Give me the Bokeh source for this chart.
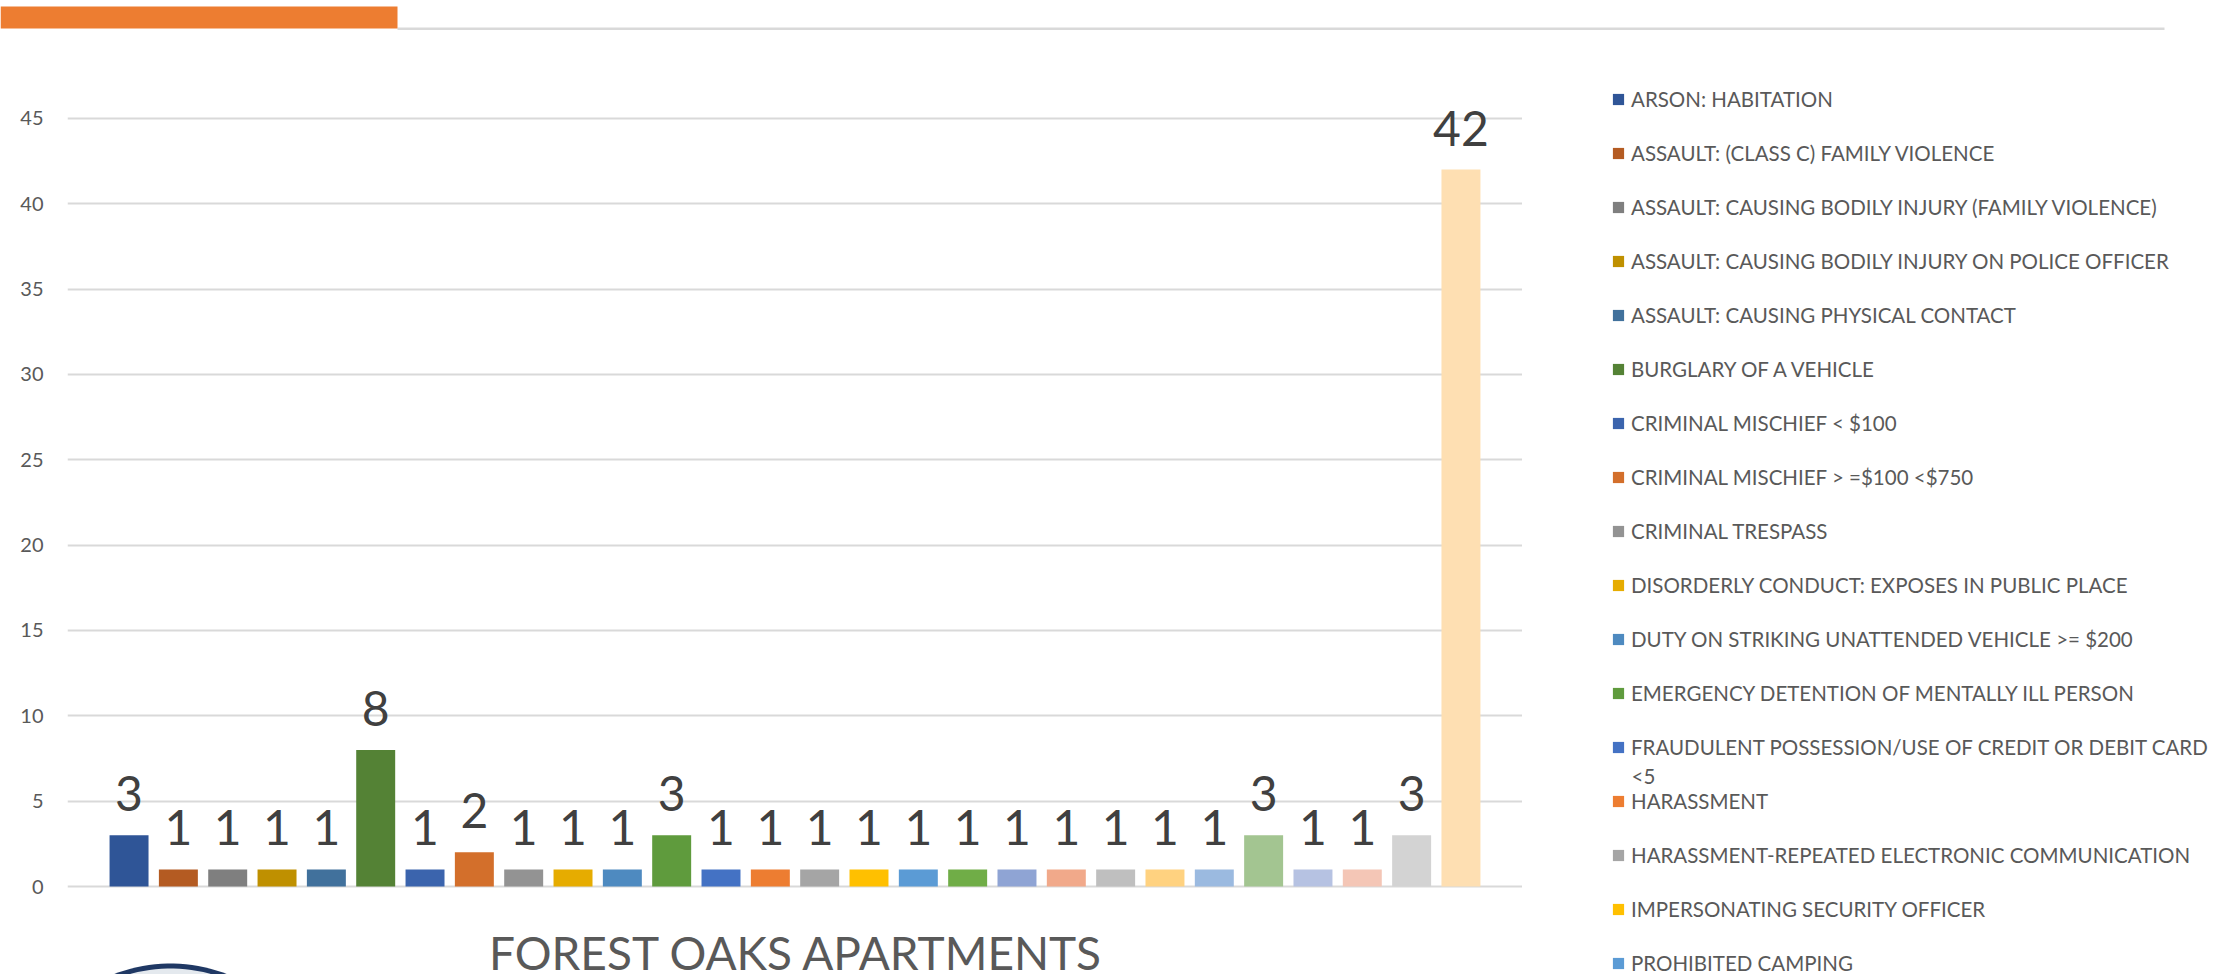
import numpy as np
from bokeh.plotting import figure
from bokeh.layouts import column, row
from bokeh.models import (FactorRange, Range1d, FixedTicker, LabelSet, Label, Legend,
                          LegendItem, PolyAnnotation, ColumnDataSource)
from bokeh.core.properties import value
from bokeh.embed import file_html
from bokeh.resources import INLINE

# ---- data ----
categories = [
    "ARSON: HABITATION",
    "ASSAULT: (CLASS C) FAMILY VIOLENCE",
    "ASSAULT: CAUSING BODILY INJURY (FAMILY VIOLENCE)",
    "ASSAULT: CAUSING BODILY INJURY ON POLICE OFFICER",
    "ASSAULT: CAUSING PHYSICAL CONTACT",
    "BURGLARY OF A VEHICLE",
    "CRIMINAL MISCHIEF < $100",
    "CRIMINAL MISCHIEF > =$100 <$750",
    "CRIMINAL TRESPASS",
    "DISORDERLY CONDUCT: EXPOSES IN PUBLIC PLACE",
    "DUTY ON STRIKING UNATTENDED VEHICLE >= $200",
    "EMERGENCY DETENTION OF MENTALLY ILL PERSON",
    "FRAUDULENT POSSESSION/USE OF CREDIT OR DEBIT CARD",
    "HARASSMENT",
    "HARASSMENT-REPEATED ELECTRONIC COMMUNICATION",
    "IMPERSONATING SECURITY OFFICER",
    "PROHIBITED CAMPING",
    # the legend is cut off in the reference below this point
    "CATEGORY 18", "CATEGORY 19", "CATEGORY 20", "CATEGORY 21", "CATEGORY 22",
    "CATEGORY 23", "CATEGORY 24", "CATEGORY 25", "CATEGORY 26", "CATEGORY 27",
    "CATEGORY 28",
]
counts = [3, 1, 1, 1, 1, 8, 1, 2, 1, 1, 1, 3, 1, 1, 1, 1, 1, 1, 1, 1, 1, 1, 1, 3, 1, 1, 3, 42]
colors = [
    "#2F5597", "#B45B22", "#7F7F7F", "#BF9000", "#41719C", "#548235", "#3B64AD",
    "#D36F2B", "#939393", "#E6AC00", "#4E8AC0", "#5F9B3D", "#4472C4", "#ED7D31",
    "#A5A5A5", "#FFC000", "#5B9BD5", "#70AD47", "#8FA4D4", "#F1A98A", "#BFBFBF",
    "#FFD280", "#9BBAE0", "#A3C591", "#B6C2E2", "#F4C6B6", "#D3D3D3", "#FEDFB2",
]
y_ticks = [0, 5, 10, 15, 20, 25, 30, 35, 40, 45]
visible_legend_count = 17
title_text = "FOREST OAKS APARTMENTS"

FONT = "Lato"
TEXT_GREY = "#595959"

# ---- geometry (pixels) ----
TOTAL_W = 2229
HEAD_H = 30
BODY_H = 944
MAIN_W = 1522
LEG_W = TOTAL_W - MAIN_W
AXIS_W = 67
ZERO_PX = 856          # y of value 0, from top of body
PX_PER_UNIT = 17.07

src = ColumnDataSource(dict(cat=categories, val=counts, color=colors,
                            label=[str(c) for c in counts]))

# ---- header strip: orange tab + thin grey rule ----
head = figure(width=TOTAL_W, height=HEAD_H, output_backend="svg", toolbar_location=None,
              x_range=Range1d(0, TOTAL_W), y_range=Range1d(0, HEAD_H),
              x_axis_location=None, y_axis_location=None,
              min_border=0, min_border_left=0, min_border_right=0,
              min_border_top=0, min_border_bottom=0)
head.outline_line_color = None
head.grid.visible = False
head.quad(left=[397], right=[2164], bottom=[0], top=[3], fill_color="#D9D9D9", line_color=None)
head.quad(left=[0], right=[397], bottom=[2], top=[24], fill_color="#ED7D31", line_color=None)

# ---- main chart ----
p = figure(width=MAIN_W, height=BODY_H, output_backend="svg", toolbar_location=None,
           x_range=FactorRange(*categories, range_padding=0.0534),
           y_range=Range1d(-(BODY_H - ZERO_PX) / PX_PER_UNIT, ZERO_PX / PX_PER_UNIT),
           x_axis_location=None,
           min_border_left=AXIS_W, min_border_right=0,
           min_border_top=0, min_border_bottom=0)
p.outline_line_color = None
p.xgrid.visible = False
p.ygrid.grid_line_color = "#D9D9D9"
p.ygrid.grid_line_width = 2
p.yaxis.ticker = FixedTicker(ticks=y_ticks)
p.yaxis.axis_line_color = None
p.yaxis.major_tick_line_color = None
p.yaxis.minor_tick_line_color = None
p.yaxis.major_tick_out = 0
p.yaxis.major_tick_in = 0
p.yaxis.major_label_standoff = 24
p.yaxis.major_label_text_font = FONT
p.yaxis.major_label_text_font_size = "20px"
p.yaxis.major_label_text_color = TEXT_GREY

r = p.vbar(x="cat", top="val", width=0.79, fill_color="color", line_color=None, source=src)

p.add_layout(LabelSet(x="cat", y="val", text="label", source=src, y_offset=24,
                      text_align="center", text_baseline="alphabetic",
                      text_font=value(FONT), text_font_size="48px", text_color="#404040"))

# chart title under the plot area
p.add_layout(Label(x=729, y=22, x_units="screen", y_units="screen", text=title_text,
                   text_font=FONT, text_font_size="46px", text_color=TEXT_GREY,
                   text_align="center", text_baseline="alphabetic"))

# top of the round logo peeking in at the bottom left
t = np.linspace(0, np.pi, 80)
cx, cy = 103, -145
for rad, col in [(156, "#1F3864"), (151, "#E4E9EE")]:
    p.add_layout(PolyAnnotation(xs=list(cx + rad * np.cos(t)), ys=list(cy + rad * np.sin(t)),
                                xs_units="screen", ys_units="screen",
                                fill_color=col, fill_alpha=1, line_alpha=0))

# ---- legend panel ----
lg = figure(width=LEG_W, height=BODY_H, output_backend="svg", toolbar_location=None,
            x_range=p.x_range, y_range=Range1d(0, 1),
            x_axis_location=None, y_axis_location=None,
            min_border_left=0, min_border_right=0, min_border_top=0, min_border_bottom=0)
lg.outline_line_color = None
lg.grid.visible = False
lr = lg.vbar(x="cat", top="val", width=0.79, fill_color="color", line_color=None,
             source=src, visible=False)

items = [LegendItem(label=categories[i], renderers=[lr], index=i)
         for i in range(visible_legend_count)]
legend = Legend(items=items, location=(89, -4), orientation="vertical",
                label_text_font=FONT, label_text_font_size="20.5px",
                label_text_color=TEXT_GREY, glyph_width=14, glyph_height=14,
                label_standoff=6, spacing=24, label_height=30, padding=0, margin=0,
                border_line_alpha=0, background_fill_alpha=0,
                inactive_fill_alpha=0)
lg.add_layout(legend)

# wrapped tail of the FRAUDULENT legend entry
lg.add_layout(Label(x=109, y=199, x_units="screen", y_units="screen", text="<5",
                    text_font=FONT, text_font_size="20.5px", text_color=TEXT_GREY,
                    text_baseline="middle", text_align="left"))

layout = column(head, row(p, lg, spacing=0), spacing=0)
open("out.html", "w").write(file_html(layout, INLINE))
